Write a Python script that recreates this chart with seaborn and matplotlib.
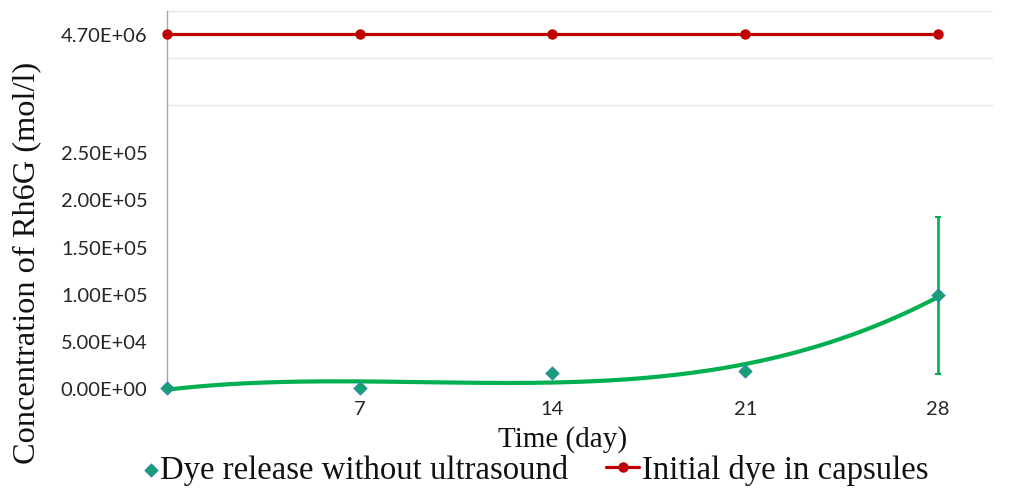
import numpy as np
import pandas as pd
import matplotlib
matplotlib.use("Agg")
import matplotlib.pyplot as plt
import seaborn as sns
from matplotlib.ticker import FixedLocator, FuncFormatter
from matplotlib.legend_handler import HandlerPathCollection

# ---- data ----
days = [0, 7, 14, 21, 28]
dye_release = [0.0, 0.0, 1.63e4, 1.84e4, 9.82e4]
dye_release_err = [0, 0, 0, 0, 8.3e4]
initial_dye = [4.70e6, 4.70e6, 4.70e6, 4.70e6, 4.70e6]
x_ticks = [7, 14, 21, 28]
y_ticks = [0, 5e4, 1e5, 1.5e5, 2e5, 2.5e5, 4.70e6]

release_label = "Dye release without ultrasound"
initial_label = "Initial dye in capsules"
x_label = "Time (day)"
y_label = "Concentration of Rh6G (mol/l)"

# ---- broken-axis style scale ----
BREAK = 2.5e5
TOP_DISPLAY = 3.76e5
K = (TOP_DISPLAY - BREAK) / (4.70e6 - BREAK)


def fwd(v):
    v = np.asarray(v, dtype=float)
    return np.where(v <= BREAK, v, BREAK + (v - BREAK) * K)


def inv(d):
    d = np.asarray(d, dtype=float)
    return np.where(d <= BREAK, d, BREAK + (d - BREAK) / K)


class RightMarkerHandler(HandlerPathCollection):
    def get_xdata(self, legend, xdescent, ydescent, width, height, fontsize):
        x = -xdescent + width - 0.2 * fontsize
        return [x], [x]


sns.set_theme(style="white")
plt.rcParams["font.family"] = ["Lato", "DejaVu Sans"]

W, H = 1024, 489
fig = plt.figure(figsize=(W / 100, H / 100), dpi=100)
ax = fig.add_axes([167 / W, 1 - 389 / H, (993 - 167) / W, (389 - 12) / H])
ax.set_yscale("function", functions=(fwd, inv))

GREEN = "#00B050"
RED = "#C00000"

# trend line (3rd order polynomial fit, as in the source spreadsheet)
coef = np.polyfit(days, dye_release, 3)
xs = np.linspace(0, 28, 200)
trend = pd.DataFrame({"x": xs, "y": np.polyval(coef, xs)})
sns.lineplot(data=trend, x="x", y="y", ax=ax, color=GREEN, lw=3.0,
             zorder=3, clip_on=False)

ax.errorbar(days, dye_release, yerr=dye_release_err, fmt="none",
            ecolor=GREEN, elinewidth=1.9, capsize=2, capthick=1.5, zorder=3)

df_red = pd.DataFrame({"day": days, "v": initial_dye})
sns.lineplot(data=df_red, x="day", y="v", ax=ax, color=RED, lw=2.3,
             marker="o", markersize=7.5, markeredgewidth=0, zorder=4,
             clip_on=False, label=initial_label, legend=False)

df_g = pd.DataFrame({"day": days, "v": dye_release})
sns.scatterplot(data=df_g, x="day", y="v", ax=ax, marker="D", s=46,
                color="#14A070", edgecolor="#3A7FC0", linewidth=0.6,
                zorder=5, clip_on=False, label=release_label, legend=False)

ax.set_xlim(0, 30)
ax.set_ylim(0, float(inv(4e5)))

ax.xaxis.set_major_locator(FixedLocator(x_ticks))
ax.yaxis.set_major_locator(FixedLocator(y_ticks))
ax.yaxis.set_major_formatter(FuncFormatter(lambda v, p: "{:.2E}".format(v)))
grid_pos = inv(np.arange(0, 4.0001e5, 5e4))
ax.yaxis.set_minor_locator(FixedLocator(list(grid_pos)))
ax.grid(False, which="major")
ax.grid(True, which="minor", axis="y", color="#E6E6E6", lw=1.0)
ax.tick_params(axis="y", which="both", length=0, pad=14, labelsize=14.5,
               labelcolor="#262626")
ax.tick_params(axis="x", which="both", length=0, pad=9, labelsize=14.5,
               labelcolor="#262626")
ax.set_xlabel("")
ax.set_ylabel("")

for s in ["top", "right", "bottom"]:
    ax.spines[s].set_visible(False)
ax.spines["left"].set_color("#A6A6A6")
ax.spines["left"].set_linewidth(1.0)

serif = ["Liberation Serif", "DejaVu Serif"]
fig.text(563 / W, 1 - 440 / H, x_label, ha="center", va="center",
         family=serif, fontsize=21, color="#111111")
fig.text(27 / W, 1 - 263 / H, y_label, ha="center", va="center",
         rotation=90, family=serif, fontsize=23.3, color="#111111")

handles, labels = ax.get_legend_handles_labels()
hmap = dict(zip(labels, handles))
green_handle = hmap[release_label]
leg = fig.legend([green_handle, hmap[initial_label]],
                 [release_label, initial_label],
                 loc="center left", bbox_to_anchor=(108 / W, 1 - 471 / H),
                 ncol=2, frameon=False, handlelength=1.0, handletextpad=0.1,
                 columnspacing=1.15, borderpad=0,
                 handler_map={green_handle: RightMarkerHandler()},
                 prop={"family": serif, "size": 23.6})
for t in leg.get_texts():
    t.set_color("#111111")

fig.savefig("out.png", dpi=100, facecolor="white")
